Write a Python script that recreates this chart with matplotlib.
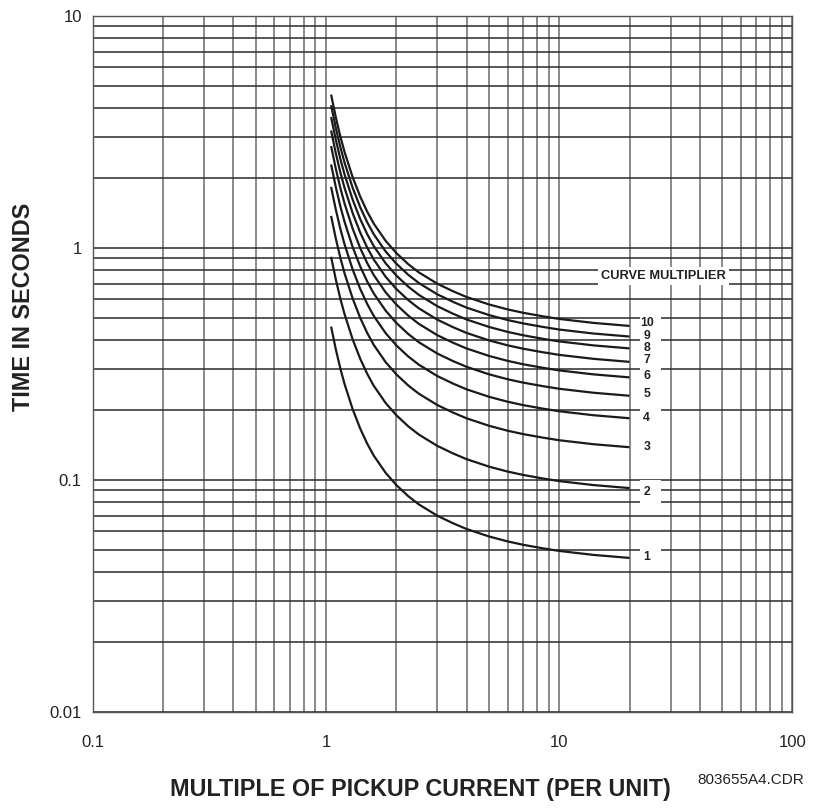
import matplotlib
matplotlib.use("Agg")
import matplotlib.pyplot as plt
from matplotlib.patches import Rectangle
from matplotlib.ticker import FixedLocator, LogLocator, NullFormatter

# time-current curve for curve multiplier 1 (per-unit pickup multiple vs seconds)
M_BASE = [1.05, 1.1, 1.15, 1.2, 1.3, 1.4, 1.5, 1.6, 1.8, 2.0, 2.25, 2.5, 3.0, 3.5, 4.0,
          5.0, 6.0, 7.0, 8.5, 10.0, 14.0, 20.0]
T_BASE = [0.457, 0.365, 0.302, 0.258, 0.201, 0.166, 0.143, 0.127, 0.107, 0.0948, 0.0849,
          0.0782, 0.0699, 0.0649, 0.0613, 0.0569, 0.0542, 0.0524, 0.0506, 0.0493, 0.0474,
          0.046]
MULTIPLIERS = [1, 2, 3, 4, 5, 6, 7, 8, 9, 10]
# vertical placement of the multiplier labels (seconds)
LABEL_T = [0.0462, 0.0881, 0.138, 0.184, 0.233, 0.279, 0.327, 0.368, 0.417, 0.474]
LABEL_M = 23.7

X_TICKS = [0.1, 1, 10, 100]
X_TICKLABELS = ["0.1", "1", "10", "100"]
Y_TICKS = [0.01, 0.1, 1, 10]
Y_TICKLABELS = ["0.01", "0.1", "1", "10"]

plt.rcParams["font.family"] = ["Liberation Sans", "DejaVu Sans"]

fig = plt.figure(figsize=(8.17, 8.08), dpi=100)
ax = fig.add_axes([0.1138, 0.1192, 0.8562, 0.8614])
ax.set_xscale("log"); ax.set_yscale("log")
ax.set_xlim(0.1, 100); ax.set_ylim(0.01, 10)

for axis in (ax.xaxis, ax.yaxis):
    axis.set_minor_locator(LogLocator(base=10, subs=range(2, 10)))
    axis.set_minor_formatter(NullFormatter())
ax.xaxis.set_major_locator(FixedLocator(X_TICKS))
ax.set_xticklabels(X_TICKLABELS)
ax.yaxis.set_major_locator(FixedLocator(Y_TICKS))
ax.set_yticklabels(Y_TICKLABELS)
ax.tick_params(which="both", length=0, labelsize=12, colors="#222")
ax.tick_params(axis="x", pad=16.5)
ax.tick_params(axis="y", pad=8)

ax.grid(axis="y", which="both", color="#2a2a2a", lw=1.1)
ax.grid(axis="x", which="both", color="#6a6a6a", lw=1.1)
for s in ax.spines.values():
    s.set_color("#555"); s.set_linewidth(1.0)

for k in MULTIPLIERS:
    ax.plot(M_BASE, [k * t for t in T_BASE], color="#1a1a1a", lw=1.6,
            solid_capstyle="butt", zorder=3)

# white knock-out behind each multiplier label so the grid stops short of it
f = 1.127
for k, ty in zip(MULTIPLIERS, LABEL_T):
    ax.add_patch(Rectangle((22.1, ty / f), 5.2, ty * f - ty / f, fc="white", ec="none",
                           zorder=2))
    ax.text(LABEL_M, ty, str(k), ha="center", va="center", fontsize=8.8,
            fontweight="bold", color="#222", zorder=4)
ax.text(28.0, 0.754, "CURVE MULTIPLIER", ha="center", va="center", fontsize=9.3,
        fontweight="bold", color="#222", zorder=4,
        bbox=dict(boxstyle="square,pad=0.25", fc="white", ec="none"))

fig.text(0.0288, 0.6207, "TIME IN SECONDS", rotation=90, ha="center", va="center",
         fontsize=16.8, fontweight="bold", color="#222")
fig.text(0.514, 0.0235, "MULTIPLE OF PICKUP CURRENT (PER UNIT)", ha="center",
         va="center", fontsize=16.8, fontweight="bold", color="#222")
fig.text(0.984, 0.0347, "803655A4.CDR", ha="right", va="center", fontsize=11,
         color="#222")

fig.savefig("out.png", dpi=100)
